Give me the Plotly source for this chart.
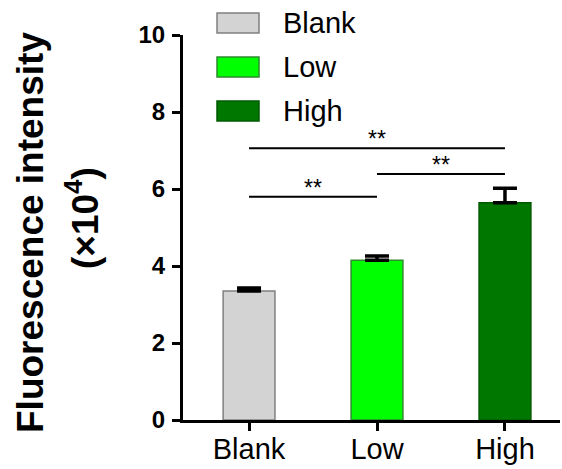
import plotly.graph_objects as go

categories = ["Blank", "Low", "High"]
values = [3.35, 4.15, 5.64]
errors = [0.08, 0.11, 0.38]
colors = ["#D3D3D3", "#00FF00", "#007800"]
edge_colors = ["#808080", "#2E8B2E", "#005A00"]
y_ticks = [0, 2, 4, 6, 8, 10]

# significance brackets: (start index, end index, y level, label)
sig_start = [0, 1, 0]
sig_end = [2, 2, 1]
sig_y = [7.06, 6.39, 5.80]
sig_label = ["**", "**", "**"]

W, H = 562, 469
L, R, T, B = 183, 560, 35, 420

def px(x):
    return (x - L) / (R - L)

def py(y):
    return (B - y) / (B - T)

FONT = "Liberation Sans"

fig = go.Figure()
fig.add_trace(go.Bar(
    x=list(range(len(categories))), y=values, width=0.405,
    marker=dict(color=colors, line=dict(color=edge_colors, width=1.5)),
    error_y=dict(type="data", array=errors, arrayminus=[0] * len(errors),
                 symmetric=False, color="black", thickness=3.5, width=12),
    showlegend=False,
))

shapes = []
annotations = []
for s, e, yv, lab in zip(sig_start, sig_end, sig_y, sig_label):
    shapes.append(dict(type="line", xref="x", yref="y", x0=s, x1=e, y0=yv, y1=yv,
                       line=dict(color="black", width=2)))
    annotations.append(dict(x=(s + e) / 2, y=yv, xref="x", yref="y", text=lab,
                            showarrow=False, yanchor="bottom", yshift=-6,
                            font=dict(size=23, color="black", family=FONT)))

# legend drawn as boxes + labels
leg_y = [23, 67, 111]
for cat, col, ec, yc in zip(categories, colors, edge_colors, leg_y):
    shapes.append(dict(type="rect", xref="paper", yref="paper",
                       x0=px(217), x1=px(259), y0=py(yc + 10), y1=py(yc - 10),
                       fillcolor=col, line=dict(color=ec, width=1.5)))
    annotations.append(dict(x=px(281), y=py(yc), xref="paper", yref="paper", text=cat,
                            showarrow=False, xanchor="left", yanchor="middle",
                            font=dict(size=29, color="black", family=FONT)))

# y-axis title (two lines)
annotations.append(dict(x=px(31), y=py(233), xref="paper", yref="paper",
                        text="Fluorescence intensity", textangle=-90, showarrow=False,
                        xanchor="center", yanchor="middle",
                        font=dict(size=37, color="black", family=FONT, weight="bold")))
annotations.append(dict(x=px(82), y=py(218), xref="paper", yref="paper",
                        text="(×10<sup>4</sup>)", textangle=-90, showarrow=False,
                        xanchor="center", yanchor="middle",
                        font=dict(size=37, color="black", family=FONT, weight="bold")))

fig.update_layout(
    width=W, height=H,
    margin=dict(l=L, r=W - R, t=T, b=H - B, pad=0),
    paper_bgcolor="white", plot_bgcolor="white",
    shapes=shapes, annotations=annotations,
    xaxis=dict(range=[-0.516, 2.43], tickvals=list(range(len(categories))), ticktext=categories,
               showline=True, linecolor="black", linewidth=3, ticks="outside", ticklen=8,
               tickwidth=3, tickcolor="black", showgrid=False, zeroline=False, automargin=False,
               ticklabelstandoff=-7,
               tickfont=dict(size=29, color="black", family=FONT)),
    yaxis=dict(range=[0, 10], tickvals=y_ticks, showline=True, linecolor="black", linewidth=3,
               ticks="outside", ticklen=8, tickwidth=3, tickcolor="black", showgrid=False,
               zeroline=False, automargin=False, ticklabelstandoff=2,
               tickfont=dict(size=24, color="black", family=FONT, weight="bold")),
)

fig.write_html("out.html", config={"displayModeBar": False},
               post_script="document.body.style.margin='0';")
